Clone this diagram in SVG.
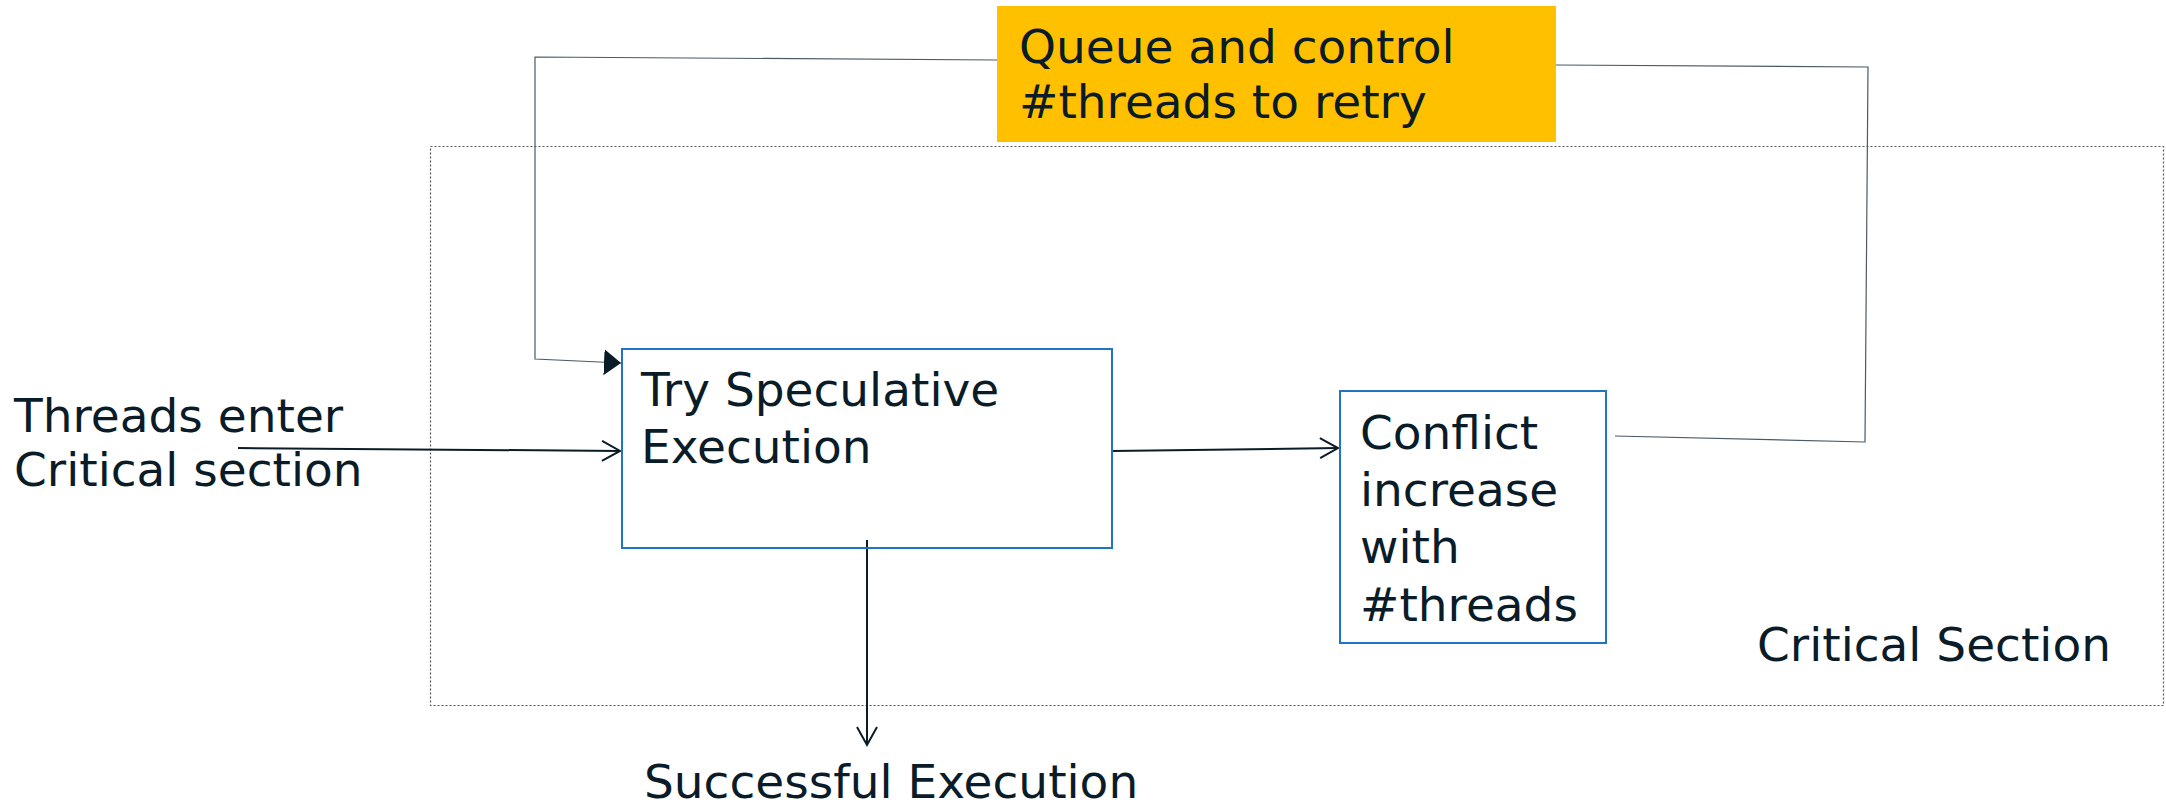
<svg xmlns="http://www.w3.org/2000/svg" width="2166" height="809" viewBox="0 0 2166 809">
<defs>
<style>
text{font-family:"DejaVu Sans","Liberation Sans",sans-serif;font-size:47px;fill:#0a1c28}
.box{fill:none;stroke:#1f74c4;stroke-width:2}
.arrow{fill:none;stroke:#0a1c28;stroke-width:2}
.fb{fill:none;stroke:#4a5a66;stroke-width:1.2}
</style>
<marker id="open" markerUnits="userSpaceOnUse" markerWidth="24" markerHeight="26" refX="19" refY="11" orient="auto">
<path d="M1,1 L19,11 L1,21" fill="none" stroke="#0a1c28" stroke-width="2"/>
</marker>
<marker id="filled" markerUnits="userSpaceOnUse" markerWidth="20" markerHeight="28" refX="17" refY="13" orient="auto">
<path d="M0,0 L17,13 L0,26 Z" fill="#0a1c28"/>
</marker>
</defs>
<rect width="2166" height="809" fill="#ffffff"/>
<g id="critical-section">
<rect x="430.5" y="146.5" width="1733" height="559" fill="none" stroke="#555" stroke-width="1.2" stroke-dasharray="2 2"/>
<text x="1757" y="661">Critical Section</text>
</g>
<g id="connectors">
<polyline class="fb" points="997,60 535,57 535,359 621,363" marker-end="url(#filled)"/>
<polyline class="fb" points="1556,65 1868,67 1865,442 1615,436"/>
<line class="arrow" x1="238" y1="448" x2="620" y2="451" marker-end="url(#open)"/>
<line class="arrow" x1="1112" y1="451" x2="1338" y2="448" marker-end="url(#open)"/>
<line class="arrow" x1="867" y1="540" x2="867" y2="745" marker-end="url(#open)"/>
</g>
<g id="threads-enter">
<text x="14" y="432">Threads enter</text>
<text x="14" y="486">Critical section</text>
</g>
<g id="try-speculative">
<rect class="box" x="622" y="349" width="490" height="199"/>
<text x="641" y="406">Try Speculative</text>
<text x="641" y="463">Execution</text>
</g>
<g id="conflict">
<rect class="box" x="1340" y="391" width="266" height="252"/>
<text x="1360" y="449">Conflict</text>
<text x="1360" y="506">increase</text>
<text x="1360" y="563">with</text>
<text x="1360" y="621">#threads</text>
</g>
<g id="queue">
<rect x="997" y="6" width="559" height="136" fill="#ffc000"/>
<text x="1019" y="63">Queue and control</text>
<text x="1019" y="118">#threads to retry</text>
</g>
<g id="successful">
<text x="644" y="798">Successful Execution</text>
</g>
</svg>
